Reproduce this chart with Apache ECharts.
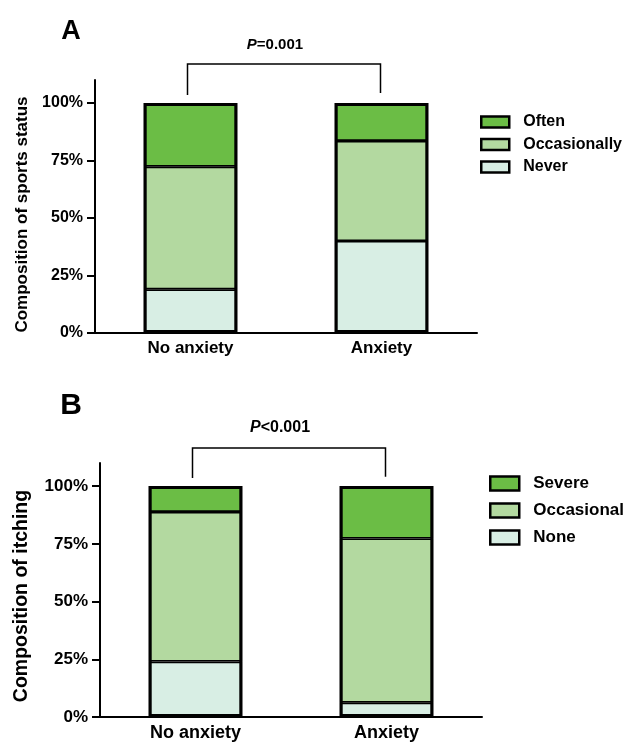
<!DOCTYPE html>
<html>
<head>
<meta charset="utf-8">
<script src="https://cdn.jsdelivr.net/npm/echarts@6/dist/echarts.min.js"></script>
<style>html,body{margin:0;padding:0;background:#fff}#c{width:631px;height:742px}</style>
</head>
<body>
<div id="c"></div>
<script>
var categories = ['No anxiety', 'Anxiety'];
var yTicks = [0, 25, 50, 75, 100];
// Panel A: sports status (%)
var sportsNever = [19, 40];
var sportsOccasionally = [53.3, 43.5];
var sportsOften = [27.7, 16.5];
// Panel B: itching (%)
var itchNone = [24, 6.2];
var itchOccasional = [64.8, 71.1];
var itchSevere = [11.2, 22.7];
var pA = 'P=0.001';
var pB = 'P<0.001';

var cDark = '#6bbd45', cMid = '#b3d9a0', cLight = '#d8eee4';
var FONT = 'Liberation Sans, Arial, sans-serif';
var BW = 1.6;

function bar(name, data, color, idx) {
  return {
    name: name, type: 'bar', stack: 's' + idx, data: data,
    xAxisIndex: idx, yAxisIndex: idx, barWidth: '49%',
    itemStyle: { color: color, borderColor: '#000', borderWidth: BW },
    emphasis: { disabled: true }, animation: false
  };
}
function outline(arrs, idx) {
  var tot = categories.map(function (c, i) {
    return arrs.reduce(function (s, a) { return s + a[i]; }, 0);
  });
  return {
    name: 'outline' + idx, type: 'bar', data: tot, xAxisIndex: idx, yAxisIndex: idx,
    barWidth: '49%', barGap: '-100%', z: 3,
    itemStyle: { color: 'rgba(0,0,0,0)', borderColor: '#000', borderWidth: 3 },
    emphasis: { disabled: true }, silent: true, animation: false
  };
}
function yAx(idx, name, fs, nfs, gap, shift) {
  return {
    type: 'value', gridIndex: idx, min: 0, max: 110,
    name: name, nameLocation: 'middle', nameGap: gap, nameRotate: 90,
    nameTextStyle: { fontFamily: FONT, fontWeight: 'bold', fontSize: nfs, color: '#000', padding: [0, shift, 0, 0] },
    axisLine: { show: true, lineStyle: { color: '#000', width: 2 } },
    axisTick: { show: true, length: 8, lineStyle: { color: '#000', width: 2 }, customValues: yTicks },
    axisLabel: { fontFamily: FONT, fontWeight: 'bold', fontSize: fs, color: '#000', margin: 12,
      customValues: yTicks, formatter: function (v) { return v + '%'; } },
    splitLine: { show: false }
  };
}
function xAx(idx, fs) {
  return {
    type: 'category', gridIndex: idx, data: categories,
    axisLine: { lineStyle: { color: '#000', width: 2 } },
    axisTick: { show: false },
    axisLabel: { fontFamily: FONT, fontWeight: 'bold', fontSize: fs, color: '#000', margin: 7 }
  };
}
function legend(data, left, top, w, h, gap, fs) {
  return {
    data: data, orient: 'vertical', left: left, top: top, padding: 0,
    itemWidth: w, itemHeight: h, itemGap: gap, icon: 'rect',
    itemStyle: { borderColor: '#000', borderWidth: 2.5 },
    textStyle: { fontFamily: FONT, fontWeight: 'bold', fontSize: fs, color: '#000', padding: [0, 0, 0, 9] },
    selectedMode: false
  };
}

var chart = echarts.init(document.getElementById('c'), null, { renderer: 'canvas' });
chart.setOption({
  backgroundColor: '#fff',
  animation: false,
  grid: [
    { left: 95, top: 80, width: 382, height: 253 },
    { left: 100, top: 463, width: 382, height: 254 }
  ],
  xAxis: [xAx(0, 17), xAx(1, 18)],
  yAxis: [yAx(0, 'Composition of sports status', 16, 17, 64, 16), yAx(1, 'Composition of itching', 17, 19.5, 68, 12)],
  legend: [
    legend(['Often', 'Occasionally', 'Never'], 480, 114, 28, 11, 6.5, 16),
    legend(['Severe', 'Occasional', 'None'], 489, 475, 29, 14, 10, 17)
  ],
  series: [
    bar('Never', sportsNever, cLight, 0),
    bar('Occasionally', sportsOccasionally, cMid, 0),
    bar('Often', sportsOften, cDark, 0),
    outline([sportsNever, sportsOccasionally, sportsOften], 0),
    bar('None', itchNone, cLight, 1),
    bar('Occasional', itchOccasional, cMid, 1),
    bar('Severe', itchSevere, cDark, 1),
    outline([itchNone, itchOccasional, itchSevere], 1)
  ]
});

function bracket(gi, yTop, yL, yR, label, fs, dy) {
  var a = chart.convertToPixel({ gridIndex: gi }, [0, yTop]);
  var b = chart.convertToPixel({ gridIndex: gi }, [1, yTop]);
  var l = chart.convertToPixel({ gridIndex: gi }, [0, yL]);
  var r = chart.convertToPixel({ gridIndex: gi }, [1, yR]);
  var ls = { stroke: '#000', lineWidth: 1.5, fill: null };
  return [
    { type: 'polyline', shape: { points: [[l[0] - 3, l[1]], [a[0] - 3, a[1]], [b[0] - 1, b[1]], [r[0] - 1, r[1]]] }, style: ls, silent: true },
    { type: 'text', x: (a[0] + b[0]) / 2 - 11, y: a[1] - dy,
      style: { rich: { i: { fontFamily: FONT, fontWeight: 'bold', fontStyle: 'italic', fontSize: fs, fill: '#000' },
                       n: { fontFamily: FONT, fontWeight: 'bold', fontSize: fs, fill: '#000' } },
               text: '{i|' + label.charAt(0) + '}{n|' + label.slice(1) + '}', align: 'center', verticalAlign: 'middle' }, silent: true }
  ];
}
var g = [].concat(
  bracket(0, 117, 103.5, 104.3, pA, 15, 19),
  bracket(1, 116.5, 103.5, 104, pB, 16, 20),
  [
    { type: 'text', x: 71, y: 32, style: { text: 'A', fontFamily: FONT, fontWeight: 'bold', fontSize: 27, fill: '#000', align: 'center', verticalAlign: 'middle' } },
    { type: 'text', x: 71, y: 406, style: { text: 'B', fontFamily: FONT, fontWeight: 'bold', fontSize: 30, fill: '#000', align: 'center', verticalAlign: 'middle' } }
  ]
);
chart.setOption({ graphic: g });
</script>
</body>
</html>
